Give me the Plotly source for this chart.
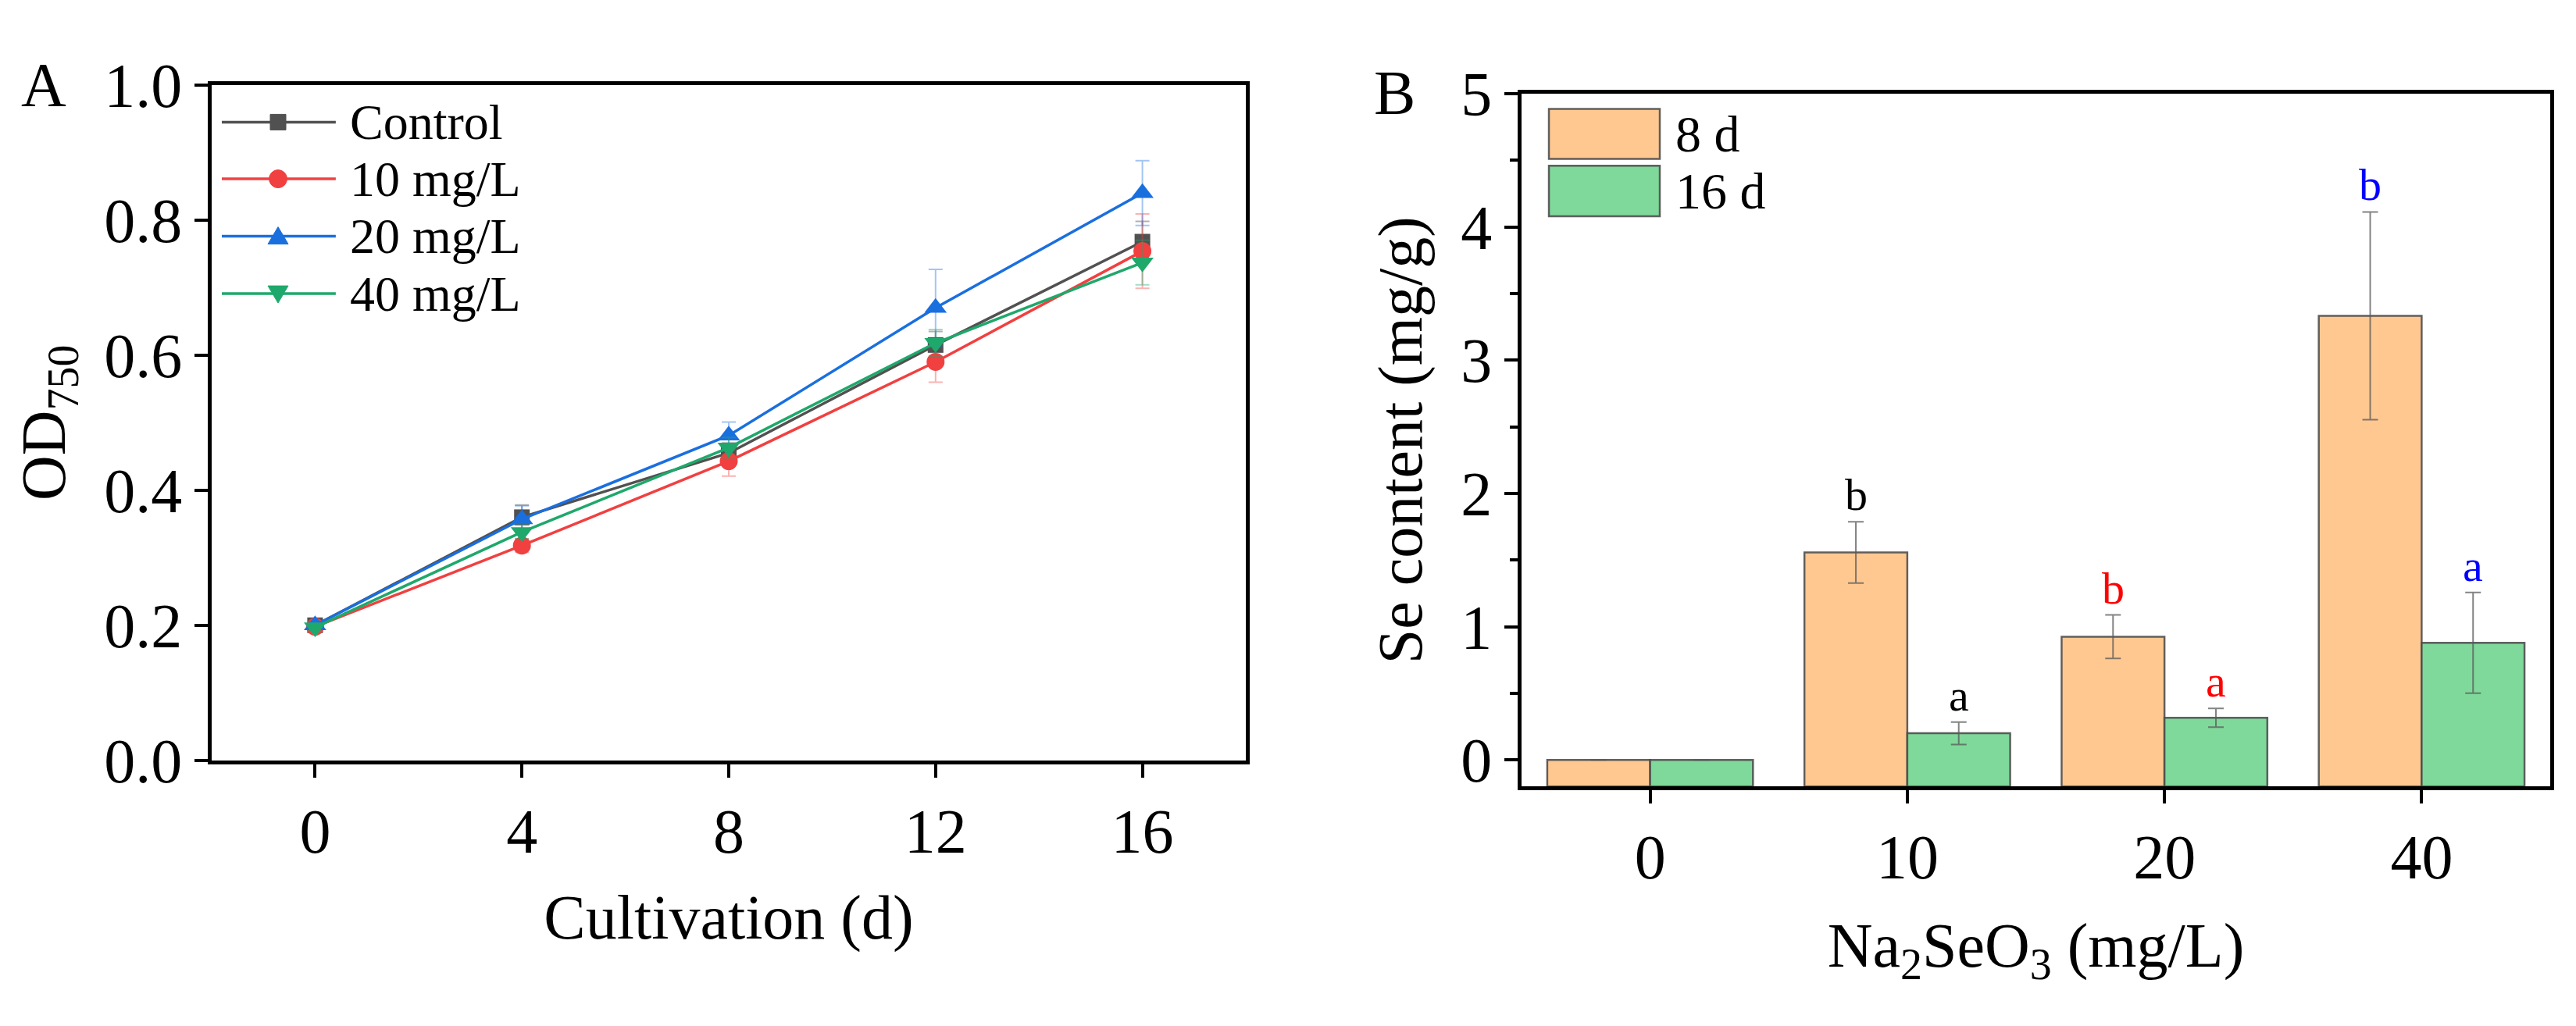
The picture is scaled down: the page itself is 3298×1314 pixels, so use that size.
import plotly.graph_objects as go

# ---- data: panel A (growth, OD750) ----
days = [0, 4, 8, 12, 16]
series_names = ["Control", "10 mg/L", "20 mg/L", "40 mg/L"]
od_control = [0.200, 0.360, 0.455, 0.615, 0.768]
od_10 = [0.198, 0.318, 0.443, 0.590, 0.754]
od_20 = [0.200, 0.357, 0.481, 0.670, 0.840]
od_40 = [0.197, 0.338, 0.463, 0.618, 0.737]
err_control = [0.005, 0.018, 0.015, 0.020, 0.030]
err_10 = [0.005, 0.010, 0.022, 0.030, 0.055]
err_20 = [0.005, 0.020, 0.020, 0.057, 0.048]
err_40 = [0.005, 0.010, 0.015, 0.020, 0.033]

# ---- data: panel B (Se content) ----
na2seo3 = ["0", "10", "20", "40"]
se_8d = [0.0, 1.557, 0.925, 3.333]
se_16d = [0.0, 0.200, 0.316, 0.879]
se_8d_err = [0.0, 0.230, 0.163, 0.780]
se_16d_err = [0.0, 0.084, 0.070, 0.378]
letters_8d = ["", "b", "b", "b"]
letters_16d = ["", "a", "a", "a"]
letter_colors = ["black", "black", "red", "blue"]

FONT = "Liberation Serif, Times New Roman, serif"
W, H = 3298, 1314
Y2_MIN = -0.2

# plot areas in pixels (left, right, top, bottom)
A_BOX = (263, 1587, 62, 989)
B_BOX = (1940, 3257, 74, 1025)

colors = ["#515151", "#F14040", "#1A6FDF", "#1FA86B"]
err_colors = ["rgba(81,81,81,0.45)", "rgba(241,64,64,0.4)",
              "rgba(26,111,223,0.4)", "rgba(31,168,107,0.4)"]
symbols = ["square", "circle", "triangle-up", "triangle-down"]
sizes = [20, 23, 25, 25]


def px_x(box, frac):
    # fraction of a panel's width -> paper x
    return (box[0] + frac * (box[1] - box[0])) / W


def px_y(box, frac):
    # fraction of a panel's height (from bottom) -> paper y
    return 1 - (box[3] - frac * (box[3] - box[2])) / H


fig = go.Figure()

od_values = [od_control, od_10, od_20, od_40]
od_errors = [err_control, err_10, err_20, err_40]
for i, name in enumerate(series_names):
    fig.add_trace(go.Scatter(
        x=days, y=od_values[i], name=name, mode="lines+markers",
        line=dict(color=colors[i], width=3.5),
        marker=dict(symbol=symbols[i], size=sizes[i], color=colors[i]),
        error_y=dict(type="data", array=od_errors[i], color=err_colors[i],
                     thickness=2, width=9),
        xaxis="x", yaxis="y", showlegend=False))

x_pos = list(range(len(na2seo3)))
bar_sets = [("8 d", se_8d, se_8d_err, "#FFC891"), ("16 d", se_16d, se_16d_err, "#7FD99A")]
for name, vals, errs, col in bar_sets:
    fig.add_trace(go.Bar(
        x=x_pos, y=[v - Y2_MIN for v in vals], base=Y2_MIN, name=name,
        marker=dict(color=col, line=dict(color="rgba(70,70,70,0.85)", width=2.5)),
        error_y=dict(type="data", array=errs, color="rgba(90,90,90,0.75)",
                     thickness=2, width=10),
        xaxis="x2", yaxis="y2", showlegend=False))

axis_common = dict(showline=True, linewidth=4.5, linecolor="black", mirror=True,
                   showgrid=False, zeroline=False, ticks="outside", ticklen=17,
                   tickwidth=4, tickcolor="black",
                   tickfont=dict(family=FONT, size=80, color="black"))
title_font = dict(family=FONT, size=80, color="black")

fig.update_layout(
    width=W, height=H, margin=dict(l=0, r=0, t=0, b=0),
    paper_bgcolor="white", plot_bgcolor="white",
    barmode="group", bargap=0.2, bargroupgap=0,
    xaxis=dict(axis_common, domain=[A_BOX[0] / W, A_BOX[1] / W], range=[-2, 18],
               tickvals=days, anchor="y",
               title=dict(text="Cultivation (d)", font=title_font, standoff=40)),
    yaxis=dict(axis_common, domain=[1 - A_BOX[3] / H, 1 - A_BOX[2] / H], range=[0, 1],
               dtick=0.2, tick0=0, tickformat=".1f", anchor="x",
               title=dict(text="OD<sub>750</sub>", font=title_font, standoff=25)),
    xaxis2=dict(axis_common, domain=[B_BOX[0] / W, B_BOX[1] / W], range=[-0.5, 3.5],
                tickvals=x_pos, ticktext=na2seo3, anchor="y2",
                title=dict(text="Na<sub>2</sub>SeO<sub>3</sub> (mg/L)", font=title_font,
                           standoff=42)),
    yaxis2=dict(axis_common, domain=[1 - B_BOX[3] / H, 1 - B_BOX[2] / H], range=[Y2_MIN, 5],
                dtick=1, tick0=0, anchor="x2",
                minor=dict(dtick=0.5, tick0=0, ticks="outside", ticklen=10,
                           tickwidth=4, tickcolor="black"),
                title=dict(text="Se content (mg/g)", font=title_font, standoff=25)),
)

annotations = []
shapes = []

# panel letters
annotations.append(dict(text="A", x=48 / W, y=1 - 62 / H, xref="paper", yref="paper",
                        showarrow=False, font=title_font, xanchor="center", yanchor="middle"))
annotations.append(dict(text="B", x=1777 / W, y=1 - 73 / H, xref="paper", yref="paper",
                        showarrow=False, font=title_font, xanchor="center", yanchor="middle"))

# significance letters above error bars
for i in x_pos:
    for dx, lab, vals, errs in [(-0.2, letters_8d, se_8d, se_8d_err),
                                (0.2, letters_16d, se_16d, se_16d_err)]:
        if lab[i]:
            annotations.append(dict(text=lab[i], x=i + dx, y=vals[i] + errs[i],
                                    xref="x2", yref="y2", showarrow=False,
                                    xanchor="center", yanchor="bottom",
                                    font=dict(family=FONT, size=58, color=letter_colors[i])))

# legend for panel A (drawn by hand to get the long line samples)
leg_rows = [0.945, 0.861, 0.776, 0.691]
marker_paths = {
    "triangle-up": "M-13,-10 L13,-10 L0,12 Z",
    "triangle-down": "M-13,10 L13,10 L0,-12 Z",
}
for i, name in enumerate(series_names):
    yy = leg_rows[i]
    shapes.append(dict(type="line", xref="paper", yref="paper",
                       x0=px_x(A_BOX, 0.0098), x1=px_x(A_BOX, 0.120),
                       y0=px_y(A_BOX, yy), y1=px_y(A_BOX, yy),
                       line=dict(color=colors[i], width=3.5)))
    base = dict(xref="paper", yref="paper", xsizemode="pixel", ysizemode="pixel",
                xanchor=px_x(A_BOX, 0.0642), yanchor=px_y(A_BOX, yy), fillcolor=colors[i],
                line=dict(color=colors[i], width=1))
    if symbols[i] == "square":
        shapes.append(dict(base, type="rect", x0=-10, x1=10, y0=-10, y1=10))
    elif symbols[i] == "circle":
        shapes.append(dict(base, type="circle", x0=-11.5, x1=11.5, y0=-11.5, y1=11.5))
    else:
        shapes.append(dict(base, type="path", path=marker_paths[symbols[i]]))
    annotations.append(dict(text=name, x=px_x(A_BOX, 0.132), y=px_y(A_BOX, yy),
                            xref="paper", yref="paper", showarrow=False,
                            xanchor="left", yanchor="middle",
                            font=dict(family=FONT, size=64, color="black")))

# legend for panel B (large swatches)
swatches = [(0.978, 0.906, "#FFC891"), (0.896, 0.823, "#7FD99A")]
for (top, bot, col), (name, *_rest) in zip(swatches, bar_sets):
    shapes.append(dict(type="rect", xref="paper", yref="paper",
                       x0=px_x(B_BOX, 0.0266), x1=px_x(B_BOX, 0.1344),
                       y0=px_y(B_BOX, bot), y1=px_y(B_BOX, top), fillcolor=col,
                       line=dict(color="rgba(70,70,70,0.85)", width=2.5)))
    annotations.append(dict(text=name, x=px_x(B_BOX, 0.148), y=px_y(B_BOX, (top + bot) / 2),
                            xref="paper", yref="paper", showarrow=False, xanchor="left",
                            yanchor="middle", font=dict(family=FONT, size=66, color="black")))

fig.update_layout(annotations=annotations, shapes=shapes)

fig.write_html("out.html")
